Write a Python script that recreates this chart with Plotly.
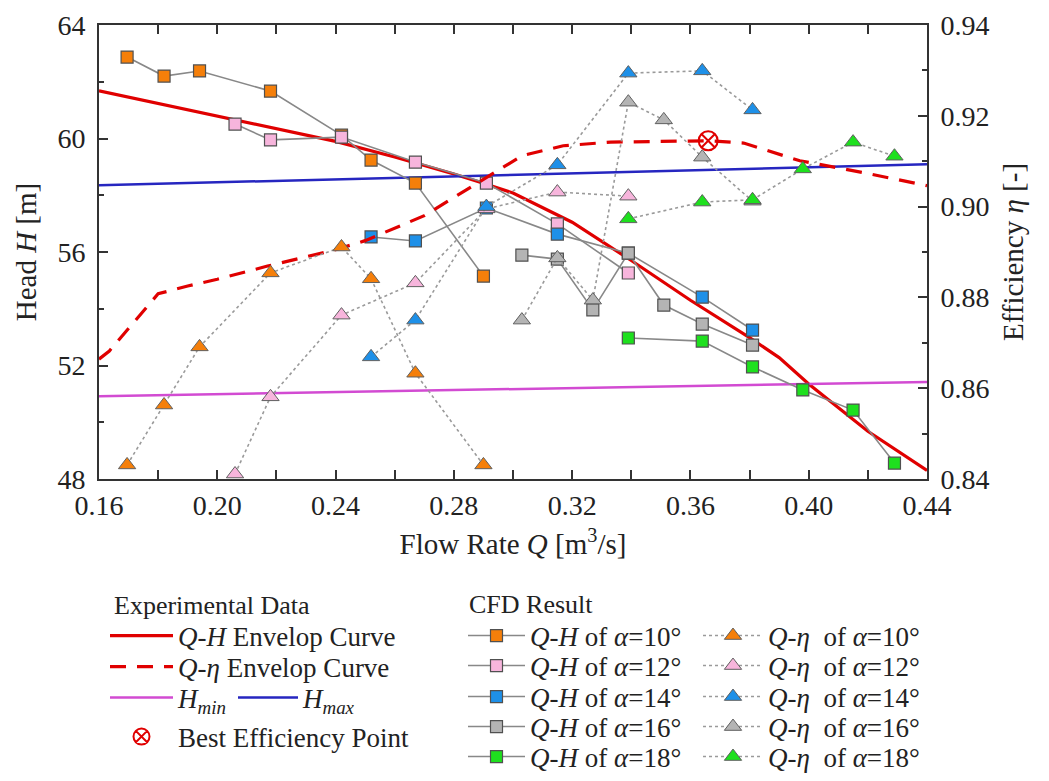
import plotly.graph_objects as go

# ---------------- Experimental envelope curves ----------------
env_qh_q = [0.16, 0.20, 0.24, 0.26, 0.28, 0.29, 0.30, 0.32, 0.34, 0.36, 0.38, 0.39, 0.40, 0.42, 0.44]
env_qh_h = [61.68, 60.8, 59.9, 59.35, 58.75, 58.42, 58.08, 57.05, 55.7, 54.3, 52.98, 52.28, 51.35, 49.68, 48.3]

env_qe_q = [0.16, 0.1635, 0.18, 0.19, 0.20, 0.217, 0.24, 0.25, 0.27, 0.285, 0.295, 0.303,
            0.317, 0.333, 0.366, 0.378, 0.397, 0.42, 0.44]
env_qe_eta = [0.8664, 0.8682, 0.8808, 0.8825, 0.884, 0.8869, 0.8905, 0.8925, 0.898, 0.904, 0.908,
              0.9112, 0.9134, 0.9142, 0.9145, 0.914, 0.9101, 0.9073, 0.9046]

hmin_q = [0.16, 0.44]
hmin_h = [50.92, 51.42]
hmax_q = [0.16, 0.44]
hmax_h = [58.35, 59.09]

bep_q = [0.366]
bep_eta = [0.9145]

# ---------------- CFD results: Q-H ----------------
qh10_q = [0.1695, 0.182, 0.194, 0.218, 0.242, 0.252, 0.267, 0.290]
qh10_h = [62.87, 62.2, 62.38, 61.67, 60.12, 59.24, 58.43, 55.15]

qh12_q = [0.206, 0.218, 0.242, 0.267, 0.291, 0.315, 0.339]
qh12_h = [60.51, 59.95, 60.05, 59.17, 58.43, 56.99, 55.26]

qh14_q = [0.252, 0.267, 0.291, 0.315, 0.339, 0.364, 0.381]
qh14_h = [56.53, 56.39, 57.55, 56.63, 55.96, 54.41, 53.25]

qh16_q = [0.303, 0.315, 0.327, 0.339, 0.351, 0.364, 0.381]
qh16_h = [55.89, 55.75, 53.96, 55.96, 54.13, 53.46, 52.72]

qh18_q = [0.339, 0.364, 0.381, 0.398, 0.415, 0.429]
qh18_h = [52.97, 52.86, 51.95, 51.14, 50.43, 48.56]

# ---------------- CFD results: Q-eta ----------------
qe10_q = [0.1695, 0.182, 0.194, 0.218, 0.242, 0.252, 0.267, 0.290]
qe10_eta = [0.8431, 0.8563, 0.8691, 0.8854, 0.8911, 0.8841, 0.8633, 0.8431]

qe12_q = [0.206, 0.218, 0.242, 0.267, 0.291, 0.315, 0.339]
qe12_eta = [0.8411, 0.8581, 0.8761, 0.8832, 0.8995, 0.9032, 0.9023]

qe14_q = [0.252, 0.267, 0.291, 0.315, 0.339, 0.364, 0.381]
qe14_eta = [0.8669, 0.875, 0.900, 0.9092, 0.9294, 0.9299, 0.9213]

qe16_q = [0.303, 0.315, 0.327, 0.339, 0.351, 0.364, 0.381]
qe16_eta = [0.875, 0.8887, 0.8794, 0.923, 0.9191, 0.9109, 0.9012]

qe18_q = [0.339, 0.364, 0.381, 0.398, 0.415, 0.429]
qe18_eta = [0.8973, 0.901, 0.9015, 0.9083, 0.9142, 0.9111]

angles = ["10", "12", "14", "16", "18"]
colors = ["#F57F0A", "#F7B5DC", "#1E90E8", "#B4B4B4", "#1EE01E"]

FONT = "Liberation Serif, Times New Roman, serif"
RED = "#E00000"
TXT = "#222222"

# plot-area geometry (pixels) used to place the legend blocks below the axes
L, R, T, B = 99, 122, 25, 302
W, H = 1049, 781
PW, PH = W - L - R, H - T - B


def px_x(px):
    return (px - L) / PW


def px_y(py):
    return (H - B - py) / PH


fig = go.Figure()

# envelope and limit lines
fig.add_trace(go.Scatter(x=env_qh_q, y=env_qh_h, mode="lines",
                         line=dict(color=RED, width=3.2),
                         name="<i>Q-H</i> Envelop Curve", legend="legend"))
fig.add_trace(go.Scatter(x=env_qe_q, y=env_qe_eta, mode="lines", yaxis="y2",
                         line=dict(color=RED, width=3.2, dash="16px,11px"),
                         name="<i>Q-η</i> Envelop Curve", legend="legend2"))
fig.add_trace(go.Scatter(x=hmin_q, y=hmin_h, mode="lines",
                         line=dict(color="#D24BD2", width=2.5),
                         name="<i>H</i><sub><i>min</i></sub>", legend="legend3"))
fig.add_trace(go.Scatter(x=hmax_q, y=hmax_h, mode="lines",
                         line=dict(color="#2626C0", width=2.5),
                         name="<i>H</i><sub><i>max</i></sub>", legend="legend4"))

# CFD Q-H curves (left axis)
qh_sets = [(qh10_q, qh10_h), (qh12_q, qh12_h), (qh14_q, qh14_h), (qh16_q, qh16_h), (qh18_q, qh18_h)]
for i, ((q, h), ang, col) in enumerate(zip(qh_sets, angles, colors)):
    fig.add_trace(go.Scatter(
        x=q, y=h, mode="lines+markers",
        line=dict(color="#888888", width=1.6),
        marker=dict(symbol="square", size=12, color=col, line=dict(color="#505050", width=1.2)),
        name=f"<i>Q-H</i> of <i>α</i>={ang}°", legend=f"legend{6 + i}"))

# CFD Q-eta curves (right axis)
qe_sets = [(qe10_q, qe10_eta), (qe12_q, qe12_eta), (qe14_q, qe14_eta), (qe16_q, qe16_eta), (qe18_q, qe18_eta)]
for i, ((q, e), ang, col) in enumerate(zip(qe_sets, angles, colors)):
    fig.add_trace(go.Scatter(
        x=q, y=e, mode="lines+markers", yaxis="y2",
        line=dict(color="#9A9A9A", width=1.6, dash="3px,3px"),
        marker=dict(symbol="triangle-up", size=15, color=col, line=dict(color="#606060", width=1)),
        name=f"<i>Q-η</i>  of <i>α</i>={ang}°", legend=f"legend{11 + i}"))

fig.add_trace(go.Scatter(x=bep_q, y=bep_eta, mode="markers", yaxis="y2",
                         marker=dict(symbol="circle-x-open", size=19, color=RED, line=dict(width=2)),
                         name="Best Efficiency Point", legend="legend5"))

axis_common = dict(showline=True, linewidth=2, linecolor="#333333", ticks="inside",
                   tickcolor="#333333", tickwidth=2, showgrid=False, zeroline=False,
                   tickfont=dict(family=FONT, size=28, color=TXT))


def leg(x_px, y_px, item_w):
    return dict(x=px_x(x_px), y=px_y(y_px), xanchor="left", yanchor="middle",
                itemwidth=item_w, font=dict(family=FONT, size=27, color=TXT),
                bgcolor="rgba(0,0,0,0)", borderwidth=0)


legends = {
    "legend": leg(105, 636, 63),
    "legend2": leg(105, 667, 63),
    "legend3": leg(105, 698, 63),
    "legend4": leg(233, 698, 60),
    "legend5": leg(105, 737, 63),
}
cfd_rows = [636, 666, 697, 727, 757]
for i, yy in enumerate(cfd_rows):
    legends[f"legend{6 + i}"] = leg(463, yy, 57)
    legends[f"legend{11 + i}"] = leg(698, yy, 60)

fig.update_layout(
    width=W, height=H,
    margin=dict(l=L, r=R, t=T, b=B, autoexpand=False),
    paper_bgcolor="white", plot_bgcolor="white",
    font=dict(family=FONT, color=TXT),
    xaxis=dict(range=[0.16, 0.44], dtick=0.04, tickformat=".2f", ticklen=9, mirror="allticks",
               minor=dict(dtick=0.02, ticks="inside", ticklen=5, tickcolor="#333333", tickwidth=2),
               title=dict(text="Flow Rate <i>Q</i> [m<sup>3</sup>/s]", standoff=14,
                          font=dict(family=FONT, size=29, color=TXT)),
               **axis_common),
    yaxis=dict(range=[48, 64], dtick=4, ticklen=9, ticklabelstandoff=6,
               minor=dict(dtick=2, ticks="inside", ticklen=5, tickcolor="#333333", tickwidth=2),
               title=dict(text="Head <i>H</i> [m]", standoff=12,
                          font=dict(family=FONT, size=29, color=TXT)),
               **axis_common),
    yaxis2=dict(range=[0.84, 0.94], dtick=0.02, tickformat=".2f", ticklen=9, overlaying="y",
                side="right", ticklabelstandoff=6,
                minor=dict(dtick=0.01, ticks="inside", ticklen=5, tickcolor="#333333", tickwidth=2),
                title=dict(text="Efficiency <i>η</i> [-]", standoff=14,
                           font=dict(family=FONT, size=29, color=TXT)),
                **axis_common),
    showlegend=True,
    annotations=[
        dict(text="Experimental Data", x=px_x(112), y=px_y(605), xref="paper", yref="paper",
             xanchor="left", yanchor="middle", showarrow=False,
             font=dict(family=FONT, size=26, color=TXT)),
        dict(text="CFD Result", x=px_x(467), y=px_y(604), xref="paper", yref="paper",
             xanchor="left", yanchor="middle", showarrow=False,
             font=dict(family=FONT, size=26, color=TXT)),
    ],
    **legends,
)

fig.write_html("out.html")
